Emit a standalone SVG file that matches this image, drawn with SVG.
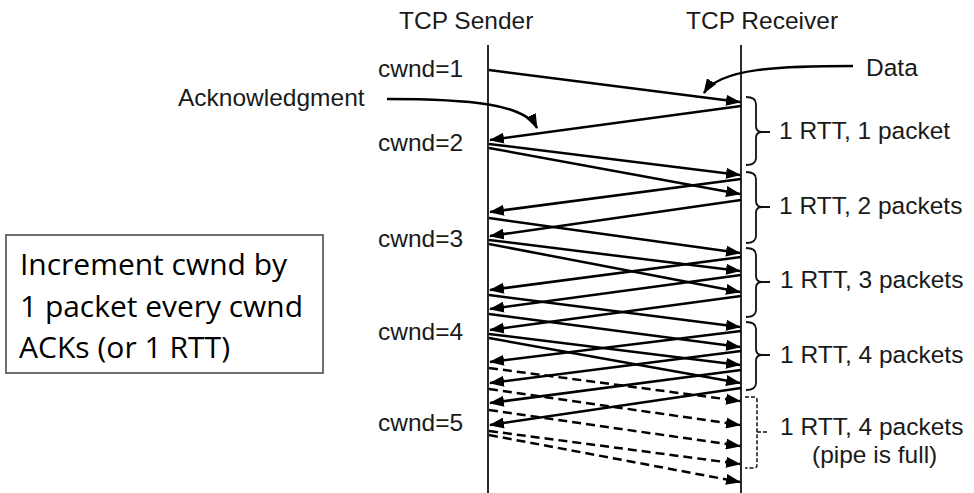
<svg xmlns="http://www.w3.org/2000/svg" width="974" height="493" viewBox="0 0 974 493">
<style>
.t{font-family:"Liberation Sans",Arial,sans-serif;font-size:24.5px;fill:#1a1a1a}
.box{font-family:"Open Sans","Noto Sans",sans-serif;font-size:30px;fill:#000}
.tl{stroke:#2a2a2a;stroke-width:2;fill:none}
.a{stroke:#000;stroke-width:2.5;fill:none;marker-end:url(#ah)}
.d{stroke:#000;stroke-width:2.5;fill:none;stroke-dasharray:9,5;marker-end:url(#ah)}
.br{stroke:#111;stroke-width:1.8;fill:none}
.brd{stroke:#111;stroke-width:1.5;fill:none;stroke-dasharray:4,2}
</style>
<defs>
<marker id="ah" markerUnits="userSpaceOnUse" markerWidth="15" markerHeight="11" refX="14" refY="5.5" orient="auto">
<path d="M0,0 L15,5.5 L0,11 z" fill="#000"/>
</marker>
</defs>
<rect width="974" height="493" fill="#fff"/>

<g id="sender">
<text class="t" x="399" y="29">TCP Sender</text>
<line class="tl" x1="488" y1="45" x2="488" y2="493"/>
</g>
<g id="receiver">
<text class="t" x="686" y="29">TCP Receiver</text>
<line class="tl" x1="741" y1="45" x2="741" y2="493"/>
</g>

<g id="cwnd-labels">
<text class="t" x="378" y="77">cwnd=1</text>
<text class="t" x="378" y="151">cwnd=2</text>
<text class="t" x="378" y="247">cwnd=3</text>
<text class="t" x="378" y="340">cwnd=4</text>
<text class="t" x="378" y="431">cwnd=5</text>
</g>

<g id="ack-label">
<text class="t" x="178" y="106">Acknowledgment</text>
</g>
<g id="data-label">
<text class="t" x="866" y="76">Data</text>
</g>

<g id="connectors">
<path class="a" d="M387,99 C470,99 525,104 537,128"/>
<path class="a" d="M853,66 C780,66 720,68 704,93"/>
<!-- data -->
<line class="a" x1="489" y1="70" x2="740" y2="102"/>
<line class="a" x1="489" y1="144" x2="740" y2="175"/>
<line class="a" x1="489" y1="148" x2="740" y2="194"/>
<line class="a" x1="489" y1="218" x2="740" y2="253"/>
<line class="a" x1="489" y1="240" x2="740" y2="271"/>
<line class="a" x1="489" y1="244" x2="740" y2="292"/>
<line class="a" x1="489" y1="295" x2="740" y2="327"/>
<line class="a" x1="489" y1="314" x2="740" y2="347"/>
<line class="a" x1="489" y1="334" x2="740" y2="365"/>
<line class="a" x1="489" y1="338" x2="740" y2="383"/>
<!-- acks -->
<line class="a" x1="741" y1="106" x2="490" y2="140"/>
<line class="a" x1="741" y1="179" x2="490" y2="212"/>
<line class="a" x1="741" y1="200" x2="490" y2="236"/>
<line class="a" x1="741" y1="257" x2="490" y2="290"/>
<line class="a" x1="741" y1="275" x2="490" y2="309"/>
<line class="a" x1="741" y1="296" x2="490" y2="330"/>
<line class="a" x1="741" y1="331" x2="490" y2="362"/>
<line class="a" x1="741" y1="351" x2="490" y2="383"/>
<line class="a" x1="741" y1="370" x2="490" y2="403"/>
<line class="a" x1="741" y1="388" x2="490" y2="425"/>
<!-- dashed data -->
<line class="d" x1="489" y1="368" x2="740" y2="401"/>
<line class="d" x1="489" y1="389" x2="740" y2="425"/>
<line class="d" x1="489" y1="410" x2="740" y2="446"/>
<line class="d" x1="489" y1="431" x2="740" y2="464"/>
<line class="d" x1="489" y1="435" x2="740" y2="482"/>
</g>

<g id="brace1">
<path class="br" d="M746,97 Q756,97 756,104 V126 Q756,132 762,132 H770 M762,132 Q756,132 756,138 V158 Q756,165 746,165"/>
<text class="t" x="779" y="139">1 RTT, 1 packet</text>
</g>
<g id="brace2">
<path class="br" d="M746,172 Q756,172 756,179 V201 Q756,207 762,207 H770 M762,207 Q756,207 756,213 V236 Q756,243 746,243"/>
<text class="t" x="779" y="214">1 RTT, 2 packets</text>
</g>
<g id="brace3">
<path class="br" d="M746,248 Q756,248 756,255 V276 Q756,282 762,282 H770 M762,282 Q756,282 756,288 V310 Q756,317 746,317"/>
<text class="t" x="780" y="288">1 RTT, 3 packets</text>
</g>
<g id="brace4">
<path class="br" d="M746,322 Q756,322 756,329 V349 Q756,355 762,355 H770 M762,355 Q756,355 756,361 V383 Q756,390 746,390"/>
<text class="t" x="780" y="363">1 RTT, 4 packets</text>
</g>
<g id="brace5">
<path class="brd" d="M745,397 H754 Q757,397 757,400 V465 Q757,468 754,468 H745 M757,432 H768"/>
<text class="t" x="780" y="435">1 RTT, 4 packets</text>
<text class="t" x="812" y="463">(pipe is full)</text>
</g>

<g id="note">
<rect x="6" y="235" width="317" height="138" fill="#fff" stroke="#404040" stroke-width="1.5"/>
<text class="box" x="20" y="275" textLength="267" lengthAdjust="spacingAndGlyphs">Increment cwnd by</text>
<text class="box" x="20" y="317" textLength="283" lengthAdjust="spacingAndGlyphs">1 packet every cwnd</text>
<text class="box" x="19" y="358" textLength="211" lengthAdjust="spacingAndGlyphs">ACKs (or 1 RTT)</text>
</g>
</svg>
